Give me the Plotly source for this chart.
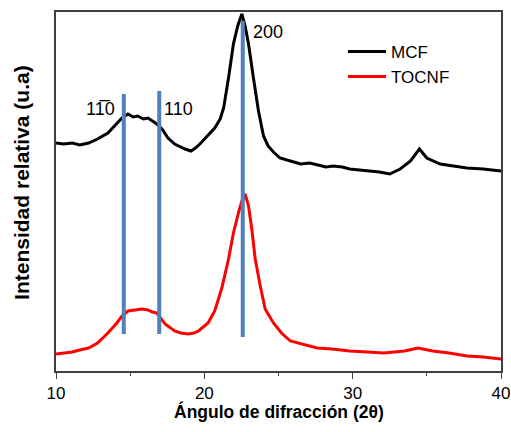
import plotly.graph_objects as go

# Diffraction angle (2θ) and relative intensity, MCF sample
mcf_2theta = [10.0, 10.5, 11.1, 11.6, 12.2, 12.8, 13.5, 14.1, 14.45, 14.85, 15.2, 15.5, 15.9,
              16.2, 16.7, 17.15, 17.55, 18.0, 18.4, 18.7, 19.1, 19.4, 19.7, 20.05, 20.4, 20.7,
              21.07, 21.3, 21.63, 21.96, 22.25, 22.53, 22.75, 22.98, 23.31, 23.65, 23.99,
              24.3, 24.66, 25.1, 25.8, 26.5, 27.1, 27.6, 28.2, 28.7, 29.3, 29.8, 30.4, 31.0,
              31.8, 32.5, 33.2, 33.9, 34.5, 35.0, 35.9, 36.8, 37.7, 38.8, 40.0]
mcf_int = [228, 227, 228, 226, 228, 232, 238, 247, 253, 257, 254, 255, 252,
           253, 248, 242, 233, 227, 224, 222, 220, 223, 227, 233, 238, 243,
           252, 263, 293, 327, 345, 357, 345, 327, 293, 260, 235,
           225, 219, 213, 210, 207, 208, 206, 204, 205, 204, 202, 201, 200,
           199, 197, 202, 210, 222, 213, 207, 205, 203, 202, 200]

# Diffraction angle (2θ) and relative intensity, TOCNF sample
tocnf_2theta = [10.0, 10.5, 11.1, 11.6, 12.2, 12.8, 13.5, 14.1, 14.45, 14.85, 15.3, 15.8,
                16.2, 16.5, 16.8, 17.35, 18.0, 18.4, 18.9, 19.3, 19.6, 20.25, 20.7, 21.18,
                21.63, 21.96, 22.3, 22.53, 22.75, 22.98, 23.2, 23.43, 23.77, 24.1, 24.66,
                25.2, 25.8, 26.6, 27.6, 28.6, 29.8, 31.0, 32.1, 33.5, 34.4, 35.4, 36.5,
                37.7, 38.8, 40.0]
tocnf_int = [17, 18, 19, 21, 23, 28, 38, 48, 55, 60, 61, 62,
             61, 59, 58, 47, 40, 38, 37, 38, 40, 48, 60, 83,
             112, 138, 158, 170, 177, 165, 142, 112, 85, 62, 48,
             38, 30, 27, 23, 22, 20, 19, 18, 20, 23, 20, 18,
             15, 14, 12]

# Crystal plane reflections (Miller indices) marked on the patterns
plane_labels = ["11\u03050", "110", "200"]
plane_2theta = [14.57, 16.96, 22.59]
plane_top = [277, 280, 350]
plane_bottom = [37, 37, 34]
label_2theta = [12.97, 18.23, 24.3]
label_int = [262, 262, 339]

x_ticks = [10, 20, 30, 40]
x_minor_ticks = [15, 25, 35]

FONT = "Liberation Sans, Arial, sans-serif"
AXIS = "#404040"

fig = go.Figure()

fig.add_trace(go.Scatter(x=mcf_2theta, y=mcf_int, mode="lines", name="MCF",
                         line=dict(color="black", width=3)))
fig.add_trace(go.Scatter(x=tocnf_2theta, y=tocnf_int, mode="lines", name="TOCNF",
                         line=dict(color="#ff0000", width=3)))

for px, top, bot in zip(plane_2theta, plane_top, plane_bottom):
    fig.add_trace(go.Scatter(x=[px, px], y=[bot, top], mode="lines", showlegend=False,
                             hoverinfo="skip", line=dict(color="#4f81bd", width=4)))

for txt, lx, ly in zip(plane_labels, label_2theta, label_int):
    fig.add_annotation(x=lx, y=ly, text=txt, showarrow=False,
                       font=dict(family=FONT, size=18, color="#000000"))

# Axis titles
fig.add_annotation(xref="paper", yref="paper", x=0.5, y=0, yshift=-40,
                   xanchor="center", yanchor="middle", showarrow=False,
                   text="<b>Ángulo de difracción (2θ)</b>", font=dict(size=17.5))
fig.add_annotation(xref="paper", yref="paper", x=0, y=0.524, xshift=-34,
                   xanchor="center", yanchor="middle", showarrow=False, textangle=-90,
                   text="<b>Intensidad relativa (u.a)</b>", font=dict(size=21))

fig.update_layout(
    template="none",
    width=511, height=432,
    margin=dict(l=56, r=10, t=12, b=61),
    paper_bgcolor="white", plot_bgcolor="white",
    font=dict(family=FONT, size=16, color="black"),
    showlegend=True,
    legend=dict(x=0.645, y=0.939, xanchor="left", yanchor="top",
                bgcolor="rgba(0,0,0,0)", font=dict(size=17),
                tracegroupgap=0, itemwidth=38),
)

fig.update_xaxes(
    range=[10, 40], tickvals=x_ticks, ticks="outside", ticklen=6, tickwidth=1,
    tickcolor=AXIS, showline=True, linecolor=AXIS, linewidth=1.5,
    mirror=True, showgrid=False, zeroline=False, automargin=False,
    tickfont=dict(size=17), ticklabeloverflow="allow",
    minor=dict(tickvals=x_minor_ticks, ticks="outside", ticklen=3, tickcolor=AXIS),
)
fig.update_yaxes(
    range=[0, 359], showticklabels=False, ticks="", showline=True,
    linecolor=AXIS, linewidth=1.5, mirror=True, showgrid=False, zeroline=False,
    automargin=False,
)

fig.write_html("out.html")
